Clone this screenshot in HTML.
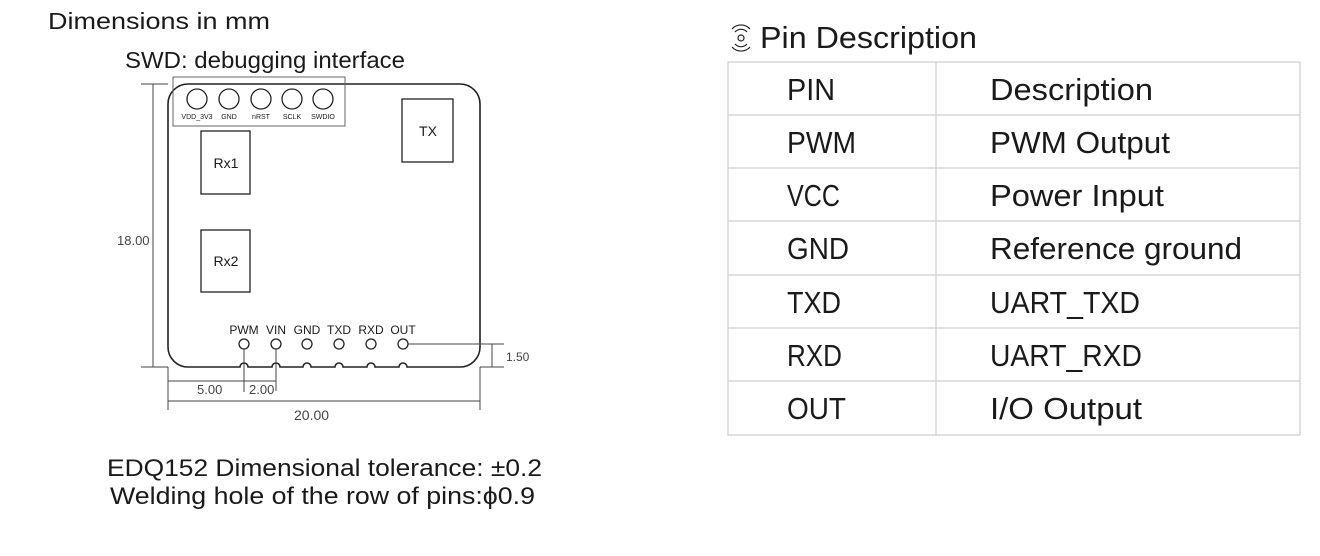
<!DOCTYPE html>
<html><head><meta charset="utf-8"><style>
html,body{margin:0;padding:0;background:#fff;}
svg{display:block;}
text{font-family:"Liberation Sans","Noto Sans CJK SC",sans-serif;fill:#1a1a1a;}
</style></head><body>
<svg width="1320" height="556" viewBox="0 0 1320 556" xmlns="http://www.w3.org/2000/svg">
<rect width="1320" height="556" fill="#fff"/>
<text x="48" y="29" font-size="23" textLength="222" lengthAdjust="spacingAndGlyphs">Dimensions in mm</text>
<text x="125" y="68" font-size="23" textLength="280" lengthAdjust="spacingAndGlyphs">SWD: debugging interface</text>

<g stroke="#222" fill="none" stroke-width="1.3">
  <path d="M188 84 H460 A20 20 0 0 1 480 104 V347 A20 20 0 0 1 460 367 H407 A4 4 0 0 0 399 367 H375 A4 4 0 0 0 367 367 H343 A4 4 0 0 0 335 367 H311 A4 4 0 0 0 303 367 H280 A4 4 0 0 0 272 367 H248 A4 4 0 0 0 240 367 H188 A20 20 0 0 1 168 347 V104 A20 20 0 0 1 188 84 Z" stroke-width="1.6"/>
  <rect x="173" y="77" width="172" height="49" stroke="#666" stroke-width="1"/>
  <circle cx="197" cy="99" r="10"/><circle cx="229" cy="99" r="10"/><circle cx="261" cy="99" r="10"/><circle cx="292" cy="99" r="10"/><circle cx="323" cy="99" r="10"/>
  <rect x="201" y="131" width="49" height="63"/>
  <rect x="201" y="230" width="49" height="62"/>
  <rect x="402" y="99" width="51" height="63"/>
  <circle cx="244" cy="344" r="5"/><circle cx="276" cy="344" r="5"/><circle cx="307" cy="344" r="5"/><circle cx="339" cy="344" r="5"/><circle cx="371" cy="344" r="5"/><circle cx="403" cy="344" r="5"/>
</g>
<g stroke="#444" stroke-width="1" fill="none">
  <line x1="141" y1="84" x2="168" y2="84"/>
  <line x1="141" y1="367" x2="168" y2="367"/>
  <line x1="153" y1="84" x2="153" y2="367"/>
  <line x1="168" y1="367" x2="168" y2="410"/>
  <line x1="480" y1="367" x2="480" y2="410"/>
  <line x1="168" y1="381" x2="244" y2="381"/>
  <line x1="244" y1="349" x2="244" y2="392"/>
  <line x1="276" y1="349" x2="276" y2="391"/>
  <line x1="244" y1="381" x2="276" y2="381"/>
  <line x1="168" y1="401" x2="480" y2="401"/>
  <line x1="408" y1="344" x2="504" y2="344"/>
  <line x1="480" y1="367" x2="504" y2="367"/>
  <line x1="492" y1="344" x2="492" y2="367"/>
</g>
<g font-size="7">
  <text x="197" y="119" text-anchor="middle">VDD_3V3</text>
  <text x="229" y="119" text-anchor="middle">GND</text>
  <text x="261" y="119" text-anchor="middle">nRST</text>
  <text x="292" y="119" text-anchor="middle">SCLK</text>
  <text x="323" y="119" text-anchor="middle">SWDIO</text>
</g>
<g font-size="14">
  <text x="226" y="168" text-anchor="middle">Rx1</text>
  <text x="226" y="266" text-anchor="middle">Rx2</text>
  <text x="428" y="136" text-anchor="middle">TX</text>
</g>
<g font-size="12">
  <text x="244" y="334" text-anchor="middle">PWM</text>
  <text x="276" y="334" text-anchor="middle">VIN</text>
  <text x="307" y="334" text-anchor="middle">GND</text>
  <text x="339" y="334" text-anchor="middle">TXD</text>
  <text x="371" y="334" text-anchor="middle">RXD</text>
  <text x="403" y="334" text-anchor="middle">OUT</text>
</g>
<g font-size="13">
  <text x="117" y="245" style="fill:#444">18.00</text>
  <text x="197" y="394" style="fill:#444">5.00</text>
  <text x="249" y="394" style="fill:#444">2.00</text>
  <text x="294" y="420" style="fill:#444" font-size="14">20.00</text>
  <text x="506" y="361" style="fill:#444" font-size="12">1.50</text>
</g>
<text x="107" y="476" font-size="24" textLength="435" lengthAdjust="spacingAndGlyphs">EDQ152 Dimensional tolerance: ±0.2</text>
<text x="110" y="504" font-size="24" textLength="425" lengthAdjust="spacingAndGlyphs">Welding hole of the row of pins:ϕ0.9</text>

<g stroke="#222" fill="none" stroke-width="1.2">
  <circle cx="741" cy="38" r="3"/>
  <path d="M735 32 A8 8 0 0 1 747 32"/>
  <path d="M732 29 A12 12 0 0 1 750 29"/>
  <path d="M735 44 A8 8 0 0 0 747 44"/>
  <path d="M732 47 A12 12 0 0 0 750 47"/>
</g>
<text x="760" y="48" font-size="31" textLength="217" lengthAdjust="spacingAndGlyphs">Pin Description</text>
<g stroke="#cfcfcf" stroke-width="1.3" fill="none">
  <rect x="728" y="62" width="572" height="373"/>
  <line x1="936" y1="62" x2="936" y2="435"/>
  <line x1="728" y1="115" x2="1300" y2="115"/>
  <line x1="728" y1="168" x2="1300" y2="168"/>
  <line x1="728" y1="221" x2="1300" y2="221"/>
  <line x1="728" y1="275" x2="1300" y2="275"/>
  <line x1="728" y1="328" x2="1300" y2="328"/>
  <line x1="728" y1="381" x2="1300" y2="381"/>
</g>
<g font-size="31">
  <text x="787" y="100" textLength="48" lengthAdjust="spacingAndGlyphs">PIN</text>
  <text x="990" y="100" textLength="163" lengthAdjust="spacingAndGlyphs">Description</text>
  <text x="787" y="153" textLength="69" lengthAdjust="spacingAndGlyphs">PWM</text>
  <text x="990" y="153" textLength="180" lengthAdjust="spacingAndGlyphs">PWM Output</text>
  <text x="787" y="206" textLength="53" lengthAdjust="spacingAndGlyphs">VCC</text>
  <text x="990" y="206" textLength="174" lengthAdjust="spacingAndGlyphs">Power Input</text>
  <text x="787" y="259" textLength="62" lengthAdjust="spacingAndGlyphs">GND</text>
  <text x="990" y="259" textLength="252" lengthAdjust="spacingAndGlyphs">Reference ground</text>
  <text x="787" y="313" textLength="54" lengthAdjust="spacingAndGlyphs">TXD</text>
  <text x="990" y="313" textLength="150" lengthAdjust="spacingAndGlyphs">UART_TXD</text>
  <text x="787" y="366" textLength="55" lengthAdjust="spacingAndGlyphs">RXD</text>
  <text x="990" y="366" textLength="152" lengthAdjust="spacingAndGlyphs">UART_RXD</text>
  <text x="787" y="419" textLength="59" lengthAdjust="spacingAndGlyphs">OUT</text>
  <text x="990" y="419" textLength="152" lengthAdjust="spacingAndGlyphs">I/O Output</text>
</g>
</svg>
</body></html>
